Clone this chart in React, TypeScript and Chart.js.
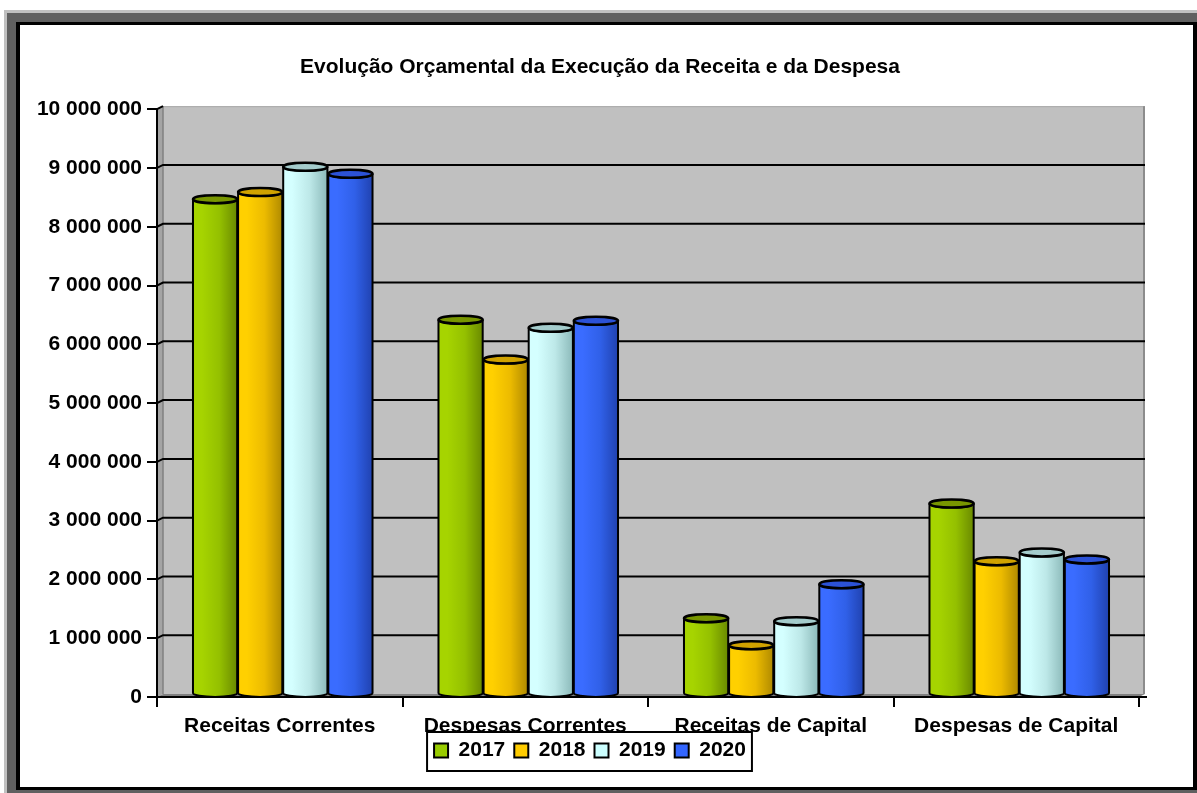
import React, { useEffect, useRef } from "react";
import { Chart, registerables } from "chart.js";

Chart.register(...registerables);

const categories = ["Receitas Correntes", "Despesas Correntes", "Receitas de Capital", "Despesas de Capital"];
const years = ["2017", "2018", "2019", "2020"];
const values2017 = [8470000, 6420000, 1340000, 3290000];
const values2018 = [8590000, 5740000, 880000, 2310000];
const values2019 = [9020000, 6280000, 1290000, 2460000];
const values2020 = [8900000, 6400000, 1920000, 2340000];
const yMin = 0;
const yMax = 10000000;
const yStep = 1000000;
const titleText = "Evolução Orçamental da Execução da Receita e da Despesa";

const series = [values2017, values2018, values2019, values2020];
const swatchColors = ["#99cc00", "#ffcc00", "#ccffff", "#3366ff"];
const gradStops = [
  ["#a6d400", "#94c000", "#6a8a00"],
  ["#ffd000", "#ecbb00", "#b08a00"],
  ["#d4ffff", "#bde8e8", "#8cbaba"],
  ["#3a6cff", "#3060e8", "#2042b0"],
];
const topColors = ["#789600", "#d0a200", "#a4cccc", "#2c52d6"];

const FONT = "'Liberation Sans', Arial, Helvetica, sans-serif";
const font21 = { family: FONT, size: 21, weight: "bold" as const };

const fmt = (v: number | string) => String(v).replace(/\B(?=(\d{3})+(?!\d))/g, " ");

const DX = 6;
const DY = 3;

const deco = {
  id: "deco",
  afterLayout(chart: any) {
    const lg = chart.legend;
    if (lg) {
      lg.left -= 10;
      lg.right -= 10;
      lg.top -= 9;
      lg.bottom -= 9;
    }
  },
  beforeDraw(chart: any) {
    const { ctx, chartArea } = chart;
    const { left, right, top, bottom } = chartArea;
    ctx.save();
    ctx.fillStyle = "#c0c0c0";
    ctx.fillRect(left + DX, top - DY, right - left, bottom - top);
    ctx.strokeStyle = "#a8a8a8";
    ctx.lineWidth = 1;
    ctx.beginPath();
    ctx.moveTo(left + DX, top - DY + 0.5);
    ctx.lineTo(right + DX, top - DY + 0.5);
    ctx.stroke();
    ctx.strokeStyle = "#8c8c8c";
    ctx.lineWidth = 2;
    ctx.beginPath();
    ctx.moveTo(right + DX - 1, top - DY);
    ctx.lineTo(right + DX - 1, bottom - DY);
    ctx.stroke();
    ctx.fillStyle = "#a4a4a4";
    ctx.beginPath();
    ctx.moveTo(left, top);
    ctx.lineTo(left + DX, top - DY);
    ctx.lineTo(left + DX, bottom - DY);
    ctx.lineTo(left, bottom);
    ctx.closePath();
    ctx.fill();
    ctx.strokeStyle = "#808080";
    ctx.lineWidth = 1.5;
    ctx.beginPath();
    ctx.moveTo(left + DX, top - DY);
    ctx.lineTo(left + DX, bottom - DY);
    ctx.stroke();
    ctx.fillStyle = "#808080";
    ctx.beginPath();
    ctx.moveTo(left, bottom);
    ctx.lineTo(left + DX, bottom - DY);
    ctx.lineTo(right + DX, bottom - DY);
    ctx.lineTo(right, bottom);
    ctx.closePath();
    ctx.fill();
    ctx.restore();
  },
  beforeDatasetsDraw(chart: any) {
    const { ctx, chartArea } = chart;
    const { left, right, bottom } = chartArea;
    const ys = chart.scales.y;
    ctx.save();
    ctx.strokeStyle = "#000";
    ctx.lineWidth = 2;
    for (let v = yMin + yStep; v < yMax; v += yStep) {
      const y = ys.getPixelForValue(v);
      ctx.beginPath();
      ctx.moveTo(left, y);
      ctx.lineTo(left + DX, y - DY);
      ctx.lineTo(right + DX, y - DY);
      ctx.stroke();
    }
    const yt = ys.getPixelForValue(yMax);
    ctx.beginPath();
    ctx.moveTo(left, yt);
    ctx.lineTo(left + DX, yt - DY);
    ctx.stroke();
    ctx.beginPath();
    ctx.moveTo(left, bottom);
    ctx.lineTo(right + DX + 2, bottom);
    ctx.stroke();
    ctx.restore();
  },
  afterDatasetsDraw(chart: any) {
    const { ctx } = chart;
    ctx.save();
    chart.data.datasets.forEach((_: any, di: number) => {
      const meta = chart.getDatasetMeta(di);
      meta.data.forEach((el: any) => {
        const { x, y, base, width } = el.getProps(["x", "y", "base", "width"], true);
        const cx = x + 3;
        const rx = width / 2;
        const ry = 4;
        const by = base - 3;
        const g = ctx.createLinearGradient(cx - rx, 0, cx + rx, 0);
        g.addColorStop(0, gradStops[di][0]);
        g.addColorStop(0.2, gradStops[di][0]);
        g.addColorStop(0.6, gradStops[di][1]);
        g.addColorStop(1, gradStops[di][2]);
        ctx.beginPath();
        ctx.moveTo(cx - rx, y);
        ctx.lineTo(cx - rx, by);
        ctx.ellipse(cx, by, rx, ry, 0, Math.PI, 0, true);
        ctx.lineTo(cx + rx, y);
        ctx.ellipse(cx, y, rx, ry, 0, 0, Math.PI, false);
        ctx.closePath();
        ctx.fillStyle = g;
        ctx.fill();
        ctx.strokeStyle = "#000";
        ctx.lineWidth = 2;
        ctx.stroke();
        ctx.beginPath();
        ctx.ellipse(cx, y, rx, ry, 0, 0, Math.PI * 2);
        ctx.fillStyle = topColors[di];
        ctx.fill();
        ctx.lineWidth = 2.5;
        ctx.stroke();
      });
    });
    ctx.restore();
  },
  afterDraw(chart: any) {
    const lg = chart.legend;
    if (!lg || !lg.legendHitBoxes || !lg.legendHitBoxes.length) return;
    const hb = lg.legendHitBoxes;
    const first = hb[0];
    const last = hb[hb.length - 1];
    const bl = first.left - 7;
    const br = last.left + last.width + 6;
    const bt = lg.top + 1;
    const bb = lg.bottom;
    const { ctx } = chart;
    ctx.save();
    ctx.fillStyle = "#fff";
    ctx.fillRect(bl, bt, br - bl, bb - bt);
    ctx.strokeStyle = "#000";
    ctx.lineWidth = 2;
    ctx.strokeRect(bl, bt, br - bl, bb - bt);
    ctx.restore();
    lg.draw();
  },
};

export default function App() {
  const ref = useRef<HTMLCanvasElement>(null);
  useEffect(() => {
    const canvas = ref.current;
    if (!canvas) return;
    const chart = new Chart(canvas, {
      type: "bar",
      data: {
        labels: categories,
        datasets: series.map((s, i) => ({
          label: years[i],
          data: s,
          backgroundColor: "rgba(0,0,0,0)",
          borderWidth: 0,
          categoryPercentage: 0.735,
          barPercentage: 0.98,
        })),
      },
      options: {
        responsive: false,
        animation: false,
        events: [],
        layout: { padding: { left: 0, right: 13, top: 0, bottom: 7 } },
        plugins: {
          title: {
            display: true,
            text: titleText,
            color: "#000",
            font: font21,
            padding: { top: 30, bottom: 29 },
          },
          legend: {
            display: true,
            position: "bottom",
            labels: {
              color: "#000",
              font: font21,
              boxWidth: 14,
              boxHeight: 14,
              padding: 9,
              generateLabels: () =>
                years.map((yr, i) => ({
                  text: yr,
                  fillStyle: swatchColors[i],
                  strokeStyle: "#000",
                  lineWidth: 2,
                  hidden: false,
                  datasetIndex: i,
                  fontColor: "#000",
                })),
            },
          },
          tooltip: { enabled: false },
        },
        scales: {
          x: {
            grid: {
              display: true,
              drawOnChartArea: false,
              drawTicks: true,
              tickLength: 10,
              color: "#000",
              lineWidth: 2,
              offset: true,
            },
            border: { display: true, color: "#000", width: 2 },
            ticks: { color: "#000", font: font21, padding: 7, maxRotation: 0, autoSkip: false },
            afterFit: (s: any) => {
              s.height = 43;
            },
          },
          y: {
            min: yMin,
            max: yMax,
            ticks: { stepSize: yStep, color: "#000", font: font21, padding: 5, callback: (v: any) => fmt(v) },
            grid: { drawOnChartArea: false, drawTicks: true, tickLength: 10, color: "#000", lineWidth: 2 },
            border: { display: true, color: "#000", width: 2 },
            afterFit: (s: any) => {
              s.width = 137;
            },
          },
          y2: {
            position: "right",
            display: true,
            grid: { display: false },
            ticks: { display: false },
            border: { display: false },
            afterFit: (s: any) => {
              s.width = 41;
            },
          },
        },
      },
      plugins: [deco],
    } as any);
    return () => chart.destroy();
  }, []);

  return (
    <div style={{ position: "fixed", left: 0, top: 0, width: 1197, height: 793, overflow: "hidden", background: "#fff" }}>
      <div style={{ position: "absolute", left: 4, top: 10, width: 1300, height: 900, background: "#c0c0c0" }} />
      <div style={{ position: "absolute", left: 7, top: 13, width: 1300, height: 900, background: "#606060" }} />
      <div style={{ position: "absolute", left: 16, top: 22, width: 1181, height: 768, background: "#000" }} />
      <div style={{ position: "absolute", left: 20, top: 25, width: 1173, height: 762, background: "#fff" }}>
        <canvas ref={ref} width={1173} height={762} style={{ display: "block", width: 1173, height: 762 }} />
      </div>
    </div>
  );
}
